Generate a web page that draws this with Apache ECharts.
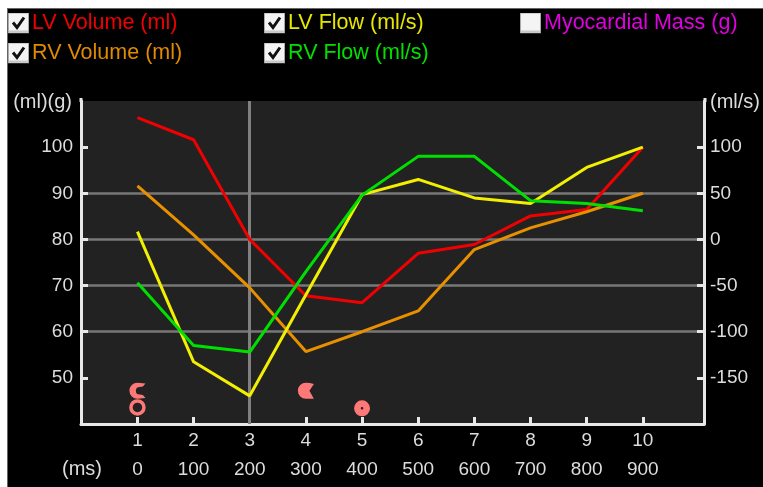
<!DOCTYPE html>
<html><head><meta charset="utf-8">
<style>html,body{margin:0;padding:0;background:#fff}#c{position:absolute;left:0;top:0;width:763px;height:487px}</style>
<script src="https://cdn.jsdelivr.net/npm/echarts@6/dist/echarts.min.js"></script>
</head><body><div id="c"></div>
<script>
const frames = [1,2,3,4,5,6,7,8,9,10];
const timesMs = [0,100,200,300,400,500,600,700,800,900];
const lvVolume = [106.4,101.6,80,67.8,66.3,77,78.9,85.1,86.5,100];
const rvVolume = [91.6,81,69.5,55.7,60,64.5,77.8,82.5,86,90];
const lvFlow = [8.4,-132.6,-169.5,-60,48.5,65,45,39,78,100];
const rvFlow = [-47,-115,-122,-35,48,90,90,42,39,31];
const ringPts = [[1,43.6]];
const discPts = [[5,43.4]];
const pacThinPts = [[1,47.2]];
const pacPts = [[4,47.2]];
const leftTicks = [50,60,70,80,90,100];
const rightTicks = [-150,-100,-50,0,50,100];
const selectedFrame = 3;

const FONT = '"Liberation Sans"';
const TXT = '#dcdcdc';
const zip = a => frames.map((f,i)=>[f,a[i]]);
const box = checked => 'image://data:image/svg+xml,' + encodeURIComponent(
 `<svg xmlns="http://www.w3.org/2000/svg" width="21" height="21" viewBox="0 0 21 21"><rect x="0.5" y="0.5" width="20" height="20" fill="#f4f4f4" stroke="#aaa"/><rect x="1" y="18" width="19" height="2" fill="#c8c8c8"/>` +
 (checked?`<path d="M5 10 L9 15 L16 5" fill="none" stroke="#111" stroke-width="3"/>`:'') + `</svg>`);
const pac = 'path://M50 0A50 50 0 1 0 50 100L100 100L72 50L100 8Q75 0 50 0Z';
const pacThin = 'path://M100 5L50 0A50 50 0 1 0 50 100L100 95L84 76L64 74A24 24 0 0 1 64 26L84 24Z';
const legendItem = (name,left,top,color,checked)=>({
  data:[{name,icon:box(checked)}],left,top,itemWidth:21,itemHeight:21,itemGap:0,
  padding:0,selectedMode:false,textStyle:{color,fontFamily:FONT,fontSize:21.5,padding:[0,0,0,-2]}
});
const lineS = (name,data,color,yi,extra)=>Object.assign({name,type:'line',data:zip(data),yAxisIndex:yi,xAxisIndex:0,symbol:'none',
  lineStyle:{color,width:3},itemStyle:{color},silent:true,z:5,animation:false},extra||{});
const scat = (name,data,symbol,style)=>({name,type:'scatter',data,symbol,symbolSize:16,xAxisIndex:0,yAxisIndex:0,itemStyle:Object.assign({opacity:1},style),z:6,silent:true,animation:false});
const axisBase = {axisLine:{show:true,onZero:false,lineStyle:{color:'#e8e8e8',width:3}},
  axisTick:{show:true,inside:true,length:7,lineStyle:{color:'#e8e8e8',width:3}},
  splitLine:{show:false}};
const label = {color:TXT,fontFamily:FONT,fontSize:19};
const name = {color:TXT,fontFamily:FONT,fontSize:20};

const chart = echarts.init(document.getElementById('c'),null,{renderer:'canvas'});
chart.setOption({
 animation:false,
 backgroundColor:'#fff',
 graphic:[{type:'rect',z:-10,shape:{x:7,y:8,width:756,height:479},style:{fill:'#000'}},
          {type:'line',z:-9,shape:{x1:7,y1:8.5,x2:763,y2:8.5},style:{stroke:'#666',lineWidth:1}},
          {type:'line',z:-9,shape:{x1:7.5,y1:8,x2:7.5,y2:487},style:{stroke:'#666',lineWidth:1}},
          {type:'rect',z:-9,shape:{x:79.5,y:98,width:3,height:4},style:{fill:'#e8e8e8'}},
          {type:'rect',z:-9,shape:{x:703.5,y:98,width:3,height:4},style:{fill:'#e8e8e8'}},
          {type:'text',z:5,x:62,y:469,style:{text:'(ms)',fill:TXT,font:'20px "Liberation Sans"',verticalAlign:'middle'}}],
 legend:[
  legendItem('LV Volume (ml)',8,12,'#f00000',true),
  legendItem('RV Volume (ml)',8,42,'#e08a00',true),
  legendItem('LV Flow (ml/s)',264,12,'#e6e600',true),
  legendItem('RV Flow (ml/s)',264,42,'#00e000',true),
  legendItem('Myocardial Mass (g)',520,12,'#e000e0',false)
 ],
 grid:{left:81,top:101,width:624,height:323,backgroundColor:'#222',show:true,borderWidth:0},
 xAxis:[
  Object.assign({},axisBase,{type:'value',min:-0.005,max:11.09,position:'bottom',
    axisTick:Object.assign({},axisBase.axisTick,{customValues:frames}),
    axisLabel:Object.assign({},label,{customValues:frames,margin:7,formatter:v=>String(v)})}),
  {type:'value',min:-100.5,max:1009,position:'bottom',offset:30,
    axisLine:{show:false,onZero:false},axisTick:{show:false},splitLine:{show:false},
    axisLabel:Object.assign({},label,{customValues:timesMs,margin:6,formatter:v=>String(v)})}
 ],
 yAxis:[
  Object.assign({},axisBase,{type:'value',position:'left',min:40,max:110,interval:10,
    splitLine:{show:true,lineStyle:{color:'#787878',width:2.5},showMinLine:false,showMaxLine:false},
    axisTick:Object.assign({},axisBase.axisTick,{customValues:leftTicks}),
    axisLabel:Object.assign({},label,{customValues:leftTicks,margin:8}),
    name:'(ml)(g)',nameLocation:'end',nameGap:-11,nameMoveOverlap:false,nameTextStyle:Object.assign({},name,{align:'right',padding:[0,9,0,0]})}),
  Object.assign({},axisBase,{type:'value',position:'right',min:-200,max:150,interval:50,
    axisTick:Object.assign({},axisBase.axisTick,{customValues:rightTicks}),
    axisLabel:Object.assign({},label,{customValues:rightTicks,margin:6}),
    name:'(ml/s)',nameLocation:'end',nameGap:-11,nameMoveOverlap:false,nameTextStyle:Object.assign({},name,{align:'left',padding:[0,0,0,6]})})
 ],
 series:[
  lineS('LV Volume (ml)',lvVolume,'#f00000',0,{markLine:{silent:true,symbol:'none',animation:false,label:{show:false},lineStyle:{color:'#808080',width:3,type:'solid'},data:[{xAxis:selectedFrame}],z:2}}),
  lineS('RV Volume (ml)',rvVolume,'#e89000',0),
  lineS('LV Flow (ml/s)',lvFlow,'#f2f000',1),
  lineS('RV Flow (ml/s)',rvFlow,'#00e000',1),
  {name:'Myocardial Mass (g)',type:'line',data:[],xAxisIndex:0,yAxisIndex:0,itemStyle:{color:'#e000e0'}},
  Object.assign(scat('Ring',ringPts,'circle',{color:'rgba(0,0,0,0)',borderColor:'#ff7878',borderWidth:3.5}),{symbolSize:13}),
  scat('Disc',discPts,'path://M50 0A50 50 0 1 0 50 100A50 50 0 1 0 50 0ZM50 42A8 8 0 1 1 50 58A8 8 0 1 1 50 42Z',{color:'#ff7878'}),
  scat('PacThin',pacThinPts,pacThin,{color:'#ff7878'}),
  scat('Pac',pacPts,pac,{color:'#ff7878'})
 ]
});
</script></body></html>
